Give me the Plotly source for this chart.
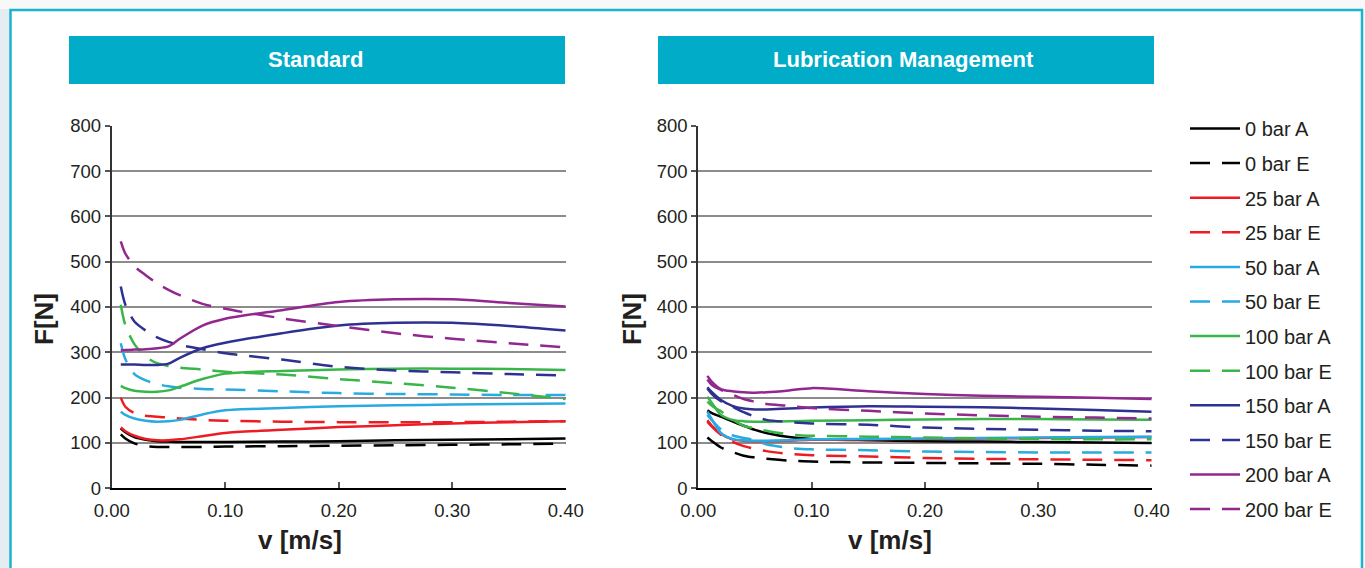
import plotly.graph_objects as go

W, H = 1365, 568

# ---------------- data ----------------
velocity = [0.008, 0.012, 0.02, 0.03, 0.04, 0.05, 0.06, 0.08, 0.10, 0.15, 0.20, 0.25, 0.30, 0.35, 0.40]

series_names = ["0 bar A", "0 bar E", "25 bar A", "25 bar E", "50 bar A", "50 bar E",
                "100 bar A", "100 bar E", "150 bar A", "150 bar E", "200 bar A", "200 bar E"]
series_colors = ["#000000", "#000000", "#ed1c24", "#ed1c24", "#29abe2", "#29abe2",
                 "#39b54a", "#39b54a", "#2e3192", "#2e3192", "#92278f", "#92278f"]

# Standard (left panel)
std_0_A = [132, 124, 113, 107, 104, 103, 102, 102, 102, 103, 104, 106, 107, 108, 110]
std_0_E = [119, 110, 99, 93, 91, 91, 91, 91, 92, 93, 94, 95, 96, 97, 99]
std_25_A = [134, 126, 116, 109, 106, 106, 108, 115, 122, 129, 135, 139, 143, 146, 148]
std_25_E = [200, 180, 166, 160, 158, 156, 154, 151, 149, 147, 146, 146, 146, 147, 148]
std_50_A = [169, 162, 154, 149, 147, 148, 151, 163, 172, 177, 181, 183, 185, 186, 187]
std_50_E = [320, 285, 252, 238, 230, 225, 222, 219, 218, 214, 210, 208, 207, 206, 206]
std_100_A = [226, 221, 215, 213, 213, 216, 224, 241, 253, 259, 262, 264, 264, 263, 261]
std_100_E = [405, 360, 318, 290, 276, 270, 266, 262, 257, 251, 241, 232, 222, 210, 197]
std_150_A = [273, 273, 273, 272, 272, 275, 288, 309, 321, 342, 359, 365, 365, 358, 348]
std_150_E = [445, 405, 368, 348, 333, 323, 316, 307, 298, 284, 268, 260, 256, 252, 249]
std_200_A = [304, 305, 306, 307, 309, 313, 330, 359, 374, 393, 411, 417, 417, 409, 401]
std_200_E = [545, 518, 490, 470, 452, 438, 426, 407, 396, 375, 358, 342, 330, 320, 311]

# Lubrication Management (right panel)
lub_0_A = [172, 166, 158, 148, 138, 129, 122, 113, 109, 106, 104, 103, 102, 101, 100]
lub_0_E = [112, 104, 90, 80, 72, 68, 65, 61, 59, 57, 56, 55, 54, 52, 50]
lub_25_A = [150, 138, 120, 108, 105, 104, 104, 105, 107, 108, 109, 110, 111, 112, 113]
lub_25_E = [147, 136, 118, 103, 93, 87, 82, 76, 73, 70, 67, 65, 64, 63, 62]
lub_50_A = [169, 152, 122, 109, 106, 105, 105, 106, 108, 109, 110, 111, 112, 113, 114]
lub_50_E = [162, 150, 130, 117, 111, 106, 97, 89, 86, 84, 81, 80, 79, 79, 79]
lub_100_A = [202, 188, 162, 151, 148, 147, 147, 148, 149, 150, 152, 153, 153, 152, 151]
lub_100_E = [191, 182, 170, 152, 138, 132, 127, 119, 116, 114, 112, 110, 109, 108, 108]
lub_150_A = [223, 212, 195, 182, 176, 174, 174, 176, 178, 181, 180, 179, 176, 173, 169]
lub_150_E = [220, 208, 192, 180, 168, 158, 151, 146, 143, 140, 134, 131, 129, 127, 126]
lub_200_A = [248, 235, 219, 214, 212, 211, 212, 216, 221, 214, 208, 204, 202, 200, 197]
lub_200_E = [240, 228, 217, 207, 197, 191, 186, 182, 177, 171, 165, 161, 158, 156, 154]

standard = [std_0_A, std_0_E, std_25_A, std_25_E, std_50_A, std_50_E,
            std_100_A, std_100_E, std_150_A, std_150_E, std_200_A, std_200_E]
lubrication = [lub_0_A, lub_0_E, lub_25_A, lub_25_E, lub_50_A, lub_50_E,
               lub_100_A, lub_100_E, lub_150_A, lub_150_E, lub_200_A, lub_200_E]

panel_titles = ["Standard", "Lubrication Management"]
x_ticks = [0.0, 0.1, 0.2, 0.3, 0.4]
y_ticks = [0, 100, 200, 300, 400, 500, 600, 700, 800]

# ---------------- layout helpers ----------------
def px_x(p):
    return p / W

def px_y(p):
    return 1 - p / H

TEAL = "#00acc8"
FONT = "Liberation Sans, Arial, sans-serif"
DASH = "20px,12px"
TICK_FONT = dict(family=FONT, size=18.5, color="#231f20")

fig = go.Figure()

for i, name in enumerate(series_names):
    dash = "solid" if name.endswith("A") else DASH
    for panel, data in enumerate([standard, lubrication]):
        fig.add_trace(go.Scatter(
            x=velocity, y=data[i], mode="lines", name=name,
            legendgroup=name, showlegend=(panel == 0),
            line=dict(color=series_colors[i], width=2.5, dash=dash, shape="spline", smoothing=0.8),
            xaxis="x" if panel == 0 else "x2", yaxis="y" if panel == 0 else "y2",
            hoverinfo="skip",
        ))

axis_common_x = dict(range=[0, 0.4], tickvals=x_ticks, tickformat=".2f", automargin=False,
                     showgrid=False, zeroline=False, showline=True, linecolor="#000000", linewidth=2,
                     ticks="inside", ticklen=6, tickcolor="#555555", tickwidth=1.5,
                     ticklabelstandoff=4, tickfont=TICK_FONT, fixedrange=True)
axis_common_y = dict(range=[0, 800], tickvals=y_ticks, automargin=False,
                     showgrid=True, gridcolor="#8c8c8c", gridwidth=1.5,
                     zeroline=False, showline=True, linecolor="#333333", linewidth=2,
                     ticks="outside", ticklen=5, tickcolor="#555555", tickwidth=1.5,
                     tickfont=TICK_FONT, fixedrange=True)

y_dom = [px_y(488.3), px_y(125.7)]
fig.update_layout(
    width=W, height=H, autosize=False,
    margin=dict(l=0, r=0, t=0, b=0, pad=0, autoexpand=False),
    paper_bgcolor="#f8f8f8", plot_bgcolor="rgba(0,0,0,0)",
    xaxis=dict(domain=[px_x(111.7), px_x(565.7)], anchor="y", **axis_common_x),
    yaxis=dict(domain=y_dom, anchor="x", **axis_common_y),
    xaxis2=dict(domain=[px_x(698.3), px_x(1151.7)], anchor="y2", **axis_common_x),
    yaxis2=dict(domain=y_dom, anchor="x2", **axis_common_y),
    legend=dict(x=px_x(1185), y=px_y(109), xanchor="left", yanchor="top",
                font=dict(family=FONT, size=20, color="#231f20"),
                itemwidth=50, tracegroupgap=5.6, bgcolor="rgba(0,0,0,0)",
                traceorder="grouped"),
    showlegend=True,
)

shapes = [
    # left light strip
    dict(type="rect", xref="paper", yref="paper", x0=0, x1=px_x(10), y0=0, y1=px_y(9),
         fillcolor="#e4eef2", line=dict(width=0), layer="below"),
    # white card with teal border
    dict(type="rect", xref="paper", yref="paper", x0=px_x(10.5), x1=px_x(1362), y0=-0.02, y1=px_y(10),
         fillcolor="#ffffff", line=dict(color="#1ab4d2", width=2.5), layer="below"),
    # panel headers
    dict(type="rect", xref="paper", yref="paper", x0=px_x(69), x1=px_x(565), y0=px_y(84), y1=px_y(36),
         fillcolor=TEAL, line=dict(width=0), layer="below"),
    dict(type="rect", xref="paper", yref="paper", x0=px_x(658), x1=px_x(1154), y0=px_y(84), y1=px_y(36),
         fillcolor=TEAL, line=dict(width=0), layer="below"),
]

def label(text, x, y, size, color="#231f20", angle=0):
    return dict(text=text, xref="paper", yref="paper", x=px_x(x), y=px_y(y),
                xanchor="center", yanchor="middle", textangle=angle, showarrow=False,
                font=dict(family=FONT, size=size, color=color, weight="bold"))

annotations = [
    label(panel_titles[0], 315, 60, 22, "#ffffff"),
    label(panel_titles[1], 903, 60, 22, "#ffffff"),
    label("F[N]", 44, 319, 26, angle=-90),
    label("F[N]", 632, 319, 26, angle=-90),
    label("v [m/s]", 300, 540, 26),
    label("v [m/s]", 890, 540, 26),
]

fig.update_layout(shapes=shapes, annotations=annotations)

fig.write_html("out.html", config={"responsive": False, "displayModeBar": False})
